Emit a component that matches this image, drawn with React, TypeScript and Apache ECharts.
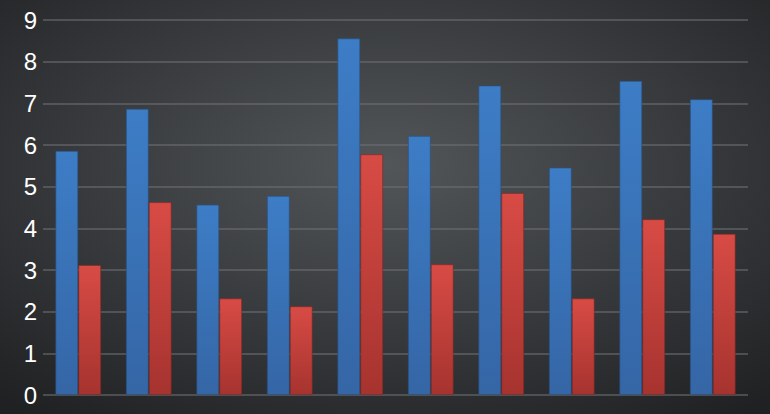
import React, { useEffect, useRef } from "react";
import * as echarts from "echarts";

const categories = ["1", "2", "3", "4", "5", "6", "7", "8", "9", "10"];
const seriesA = [5.86, 6.87, 4.57, 4.78, 8.56, 6.22, 7.43, 5.46, 7.54, 7.1];
const seriesB = [3.12, 4.63, 2.32, 2.13, 5.78, 3.14, 4.85, 2.32, 4.22, 3.87];
const yTicks = { min: 0, max: 9, interval: 1 };

export default function App() {
  const ref = useRef<HTMLDivElement>(null);
  useEffect(() => {
    if (!ref.current) return;
    const chart = echarts.init(ref.current, undefined, { renderer: "svg" });
    const blue = new echarts.graphic.LinearGradient(0, 0, 0, 1, [
      { offset: 0, color: "#3d7dc6" },
      { offset: 1, color: "#3566a6" },
    ]);
    const red = new echarts.graphic.LinearGradient(0, 0, 0, 1, [
      { offset: 0, color: "#d84b45" },
      { offset: 1, color: "#a6332f" },
    ]);
    chart.setOption({
      animation: false,
      backgroundColor: new echarts.graphic.RadialGradient(0.5, 0.4, 0.75, [
        { offset: 0, color: "#535659" },
        { offset: 1, color: "#1f2123" },
      ]),
      grid: { left: 43, right: 22, top: 20, bottom: 19 },
      xAxis: {
        type: "category",
        data: categories,
        axisLine: { show: false },
        axisTick: { show: false },
        axisLabel: { show: false },
      },
      yAxis: {
        type: "value",
        min: yTicks.min,
        max: yTicks.max,
        interval: yTicks.interval,
        axisLine: { show: false },
        axisTick: { show: false },
        axisLabel: {
          color: "#ffffff",
          fontSize: 24,
          fontFamily: "'Liberation Sans Narrow', 'Liberation Sans', Arial, sans-serif",
          margin: 6,
        },
        splitLine: { lineStyle: { color: "rgba(110,112,115,0.55)", width: 2 } },
      },
      series: [
        {
          type: "bar",
          data: seriesA,
          barGap: "0%",
          barCategoryGap: "35%",
          itemStyle: { color: blue, borderColor: "rgba(40,80,130,0.6)", borderWidth: 1 },
        },
        {
          type: "bar",
          data: seriesB,
          itemStyle: { color: red, borderColor: "rgba(130,40,35,0.6)", borderWidth: 1 },
        },
      ],
    });
    return () => chart.dispose();
  }, []);
  return <div ref={ref} style={{ width: 770, height: 414, position: "absolute", left: 0, top: 0 }} />;
}
